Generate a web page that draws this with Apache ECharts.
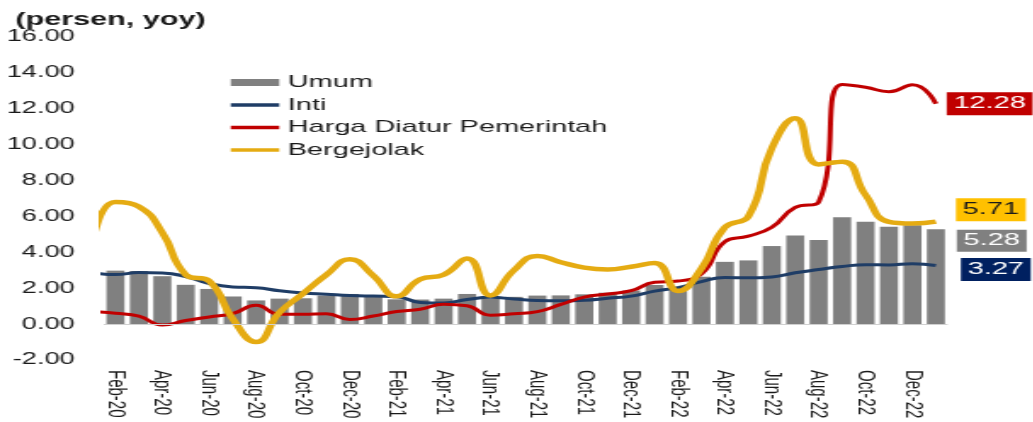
<!DOCTYPE html>
<html>
<head>
<meta charset="utf-8">
<script src="https://cdn.jsdelivr.net/npm/echarts@6/dist/echarts.min.js"></script>
<style>
  html, body { margin: 0; padding: 0; background: #fff; overflow: hidden; }
  /* reference picture is stretched sideways, so draw narrow and stretch it */
  #chart { width: 607.6px; height: 422px; transform: scaleX(1.7); transform-origin: 0 0; }
</style>
</head>
<body>
<div id="chart"></div>
<script>
const months = [
  "Feb-20", "Mar-20", "Apr-20", "May-20", "Jun-20", "Jul-20", "Aug-20", "Sep-20", "Oct-20", "Nov-20", "Dec-20",
  "Jan-21", "Feb-21", "Mar-21", "Apr-21", "May-21", "Jun-21", "Jul-21", "Aug-21", "Sep-21", "Oct-21", "Nov-21", "Dec-21",
  "Jan-22", "Feb-22", "Mar-22", "Apr-22", "May-22", "Jun-22", "Jul-22", "Aug-22", "Sep-22", "Oct-22", "Nov-22", "Dec-22",
  "Jan-23"
];
// lines start one month earlier, that point is cut off by the plot edge
const lineMonths = ["Jan-20"].concat(months);

const umum = [
  2.98, 2.96, 2.67, 2.19, 1.96, 1.54, 1.32, 1.42, 1.44, 1.59, 1.68,
  1.55, 1.38, 1.37, 1.42, 1.68, 1.40, 1.52, 1.59, 1.60, 1.66, 1.75, 1.87,
  2.18, 2.06, 2.64, 3.47, 3.55, 4.35, 4.94, 4.69, 5.95, 5.71, 5.42, 5.51,
  5.28
];
const inti = [
  2.88,
  2.76, 2.87, 2.85, 2.65, 2.26, 2.07, 2.03, 1.86, 1.74, 1.67, 1.60,
  1.56, 1.53, 1.21, 1.18, 1.37, 1.49, 1.40, 1.31, 1.30, 1.33, 1.44, 1.56,
  1.84, 2.03, 2.37, 2.60, 2.58, 2.63, 2.86, 3.04, 3.21, 3.31, 3.30, 3.36,
  3.27
];
const hargaDiatur = [
  0.70,
  0.60, 0.45, -0.05, 0.20, 0.40, 0.58, 1.05, 0.55, 0.55, 0.58, 0.26,
  0.45, 0.70, 0.83, 1.11, 1.02, 0.50, 0.58, 0.70, 1.10, 1.50, 1.68, 1.86,
  2.33, 2.40, 2.80, 4.60, 4.90, 5.40, 6.50, 6.80, 13.35, 13.20, 12.95, 13.34,
  12.28
];
const bergejolak = [
  4.30,
  6.80, 6.55, 5.10, 2.75, 2.40, 0.30, -1.00, 0.65, 1.70, 2.75, 3.62,
  2.70, 1.55, 2.50, 2.75, 3.65, 1.60, 3.00, 3.80, 3.45, 3.15, 3.05, 3.20,
  3.40, 1.85, 3.10, 5.40, 6.00, 9.80, 11.47, 8.90, 9.05, 7.20, 5.70, 5.61,
  5.71
];
const yMin = -2;
const yMax = 16;
const yStep = 2;

const font = "'Liberation Sans', Arial, sans-serif";
const textColor = "#1a1a1a";

const toPoints = values => lineMonths.map((m, j) => [j, values[j]]);

const lineSeries = (name, values, color, width, box, textCol, offset) => ({
  name: name,
  type: "line",
  xAxisIndex: 1,
  data: toPoints(values),
  smooth: 0.5,
  symbol: "none",
  lineStyle: { color: color, width: width },
  itemStyle: { color: color },
  endLabel: {
    show: true,
    distance: 0,
    offset: offset,
    formatter: p => p.value[1].toFixed(2),
    backgroundColor: box,
    color: textCol,
    fontFamily: font,
    fontSize: 17,
    padding: [3, 4, 3, 4]
  }
});

const chart = echarts.init(document.getElementById("chart"));

const option = {
  animation: false,
  backgroundColor: "#fff",
  title: {
    text: "(persen, yoy)",
    left: 9,
    top: 11,
    padding: 0,
    textStyle: { fontFamily: font, fontSize: 18, fontWeight: "bold", color: textColor }
  },
  legend: {
    orient: "vertical",
    left: 134,
    top: 74,
    itemWidth: 28.5,
    itemHeight: 7,
    itemGap: 5.5,
    padding: 0,
    textStyle: { fontFamily: font, fontSize: 17, color: textColor, lineHeight: 16 },
    data: [
      { name: "Umum", icon: "rect" },
      { name: "Inti", itemStyle: { opacity: 0 }, lineStyle: { width: 3.5 } },
      { name: "Harga Diatur Pemerintah", itemStyle: { opacity: 0 }, lineStyle: { width: 3.5 } },
      { name: "Bergejolak", itemStyle: { opacity: 0 }, lineStyle: { width: 3.5 } }
    ]
  },
  grid: { left: 61, right: 50.6, top: 37, bottom: 62, outerBoundsMode: "none" },
  xAxis: [
    {
      type: "category",
      data: months,
      boundaryGap: true,
      axisLine: { show: false },
      axisTick: { show: false },
      axisLabel: {
        interval: 1,
        rotate: -90,
        margin: 10,
        fontFamily: font,
        fontSize: 15,
        color: textColor
      }
    },
    {
      type: "value",
      min: 0.5,
      max: lineMonths.length - 0.5,
      show: false
    }
  ],
  yAxis: {
    type: "value",
    min: yMin,
    max: yMax,
    interval: yStep,
    axisLine: { show: false },
    axisTick: { show: false },
    splitLine: { show: false },
    axisLabel: {
      margin: 17,
      fontFamily: font,
      fontSize: 16,
      color: textColor,
      formatter: v => v.toFixed(2)
    }
  },
  series: [
    {
      name: "Umum",
      type: "bar",
      xAxisIndex: 0,
      barCategoryGap: "23%",
      itemStyle: { color: "#808080" },
      markLine: {
        silent: true,
        symbol: ["none", "none"],
        label: { show: false },
        lineStyle: { color: "#d0d0d0", width: 1, type: "solid" },
        data: [{ yAxis: 0 }]
      },
      data: umum.map((v, i) =>
        i === umum.length - 1
          ? {
              value: v,
              label: {
                show: true,
                position: "right",
                distance: 7,
                offset: [0, -36],
                formatter: p => p.value.toFixed(2),
                backgroundColor: "#808080",
                color: "#fff",
                fontFamily: font,
                fontSize: 17,
                padding: [3, 4, 2, 4]
              }
            }
          : v
      )
    },
    lineSeries("Inti", inti, "#1f3d66", 3, "#002060", "#fff", [14.7, 4]),
    lineSeries("Harga Diatur Pemerintah", hargaDiatur, "#c00000", 3, "#c00000", "#fff", [6.4, 0]),
    lineSeries("Bergejolak", bergejolak, "#e5ab12", 4.5, "#ffc000", textColor, [11.8, -12])
  ]
};

chart.setOption(option);
</script>
</body>
</html>
